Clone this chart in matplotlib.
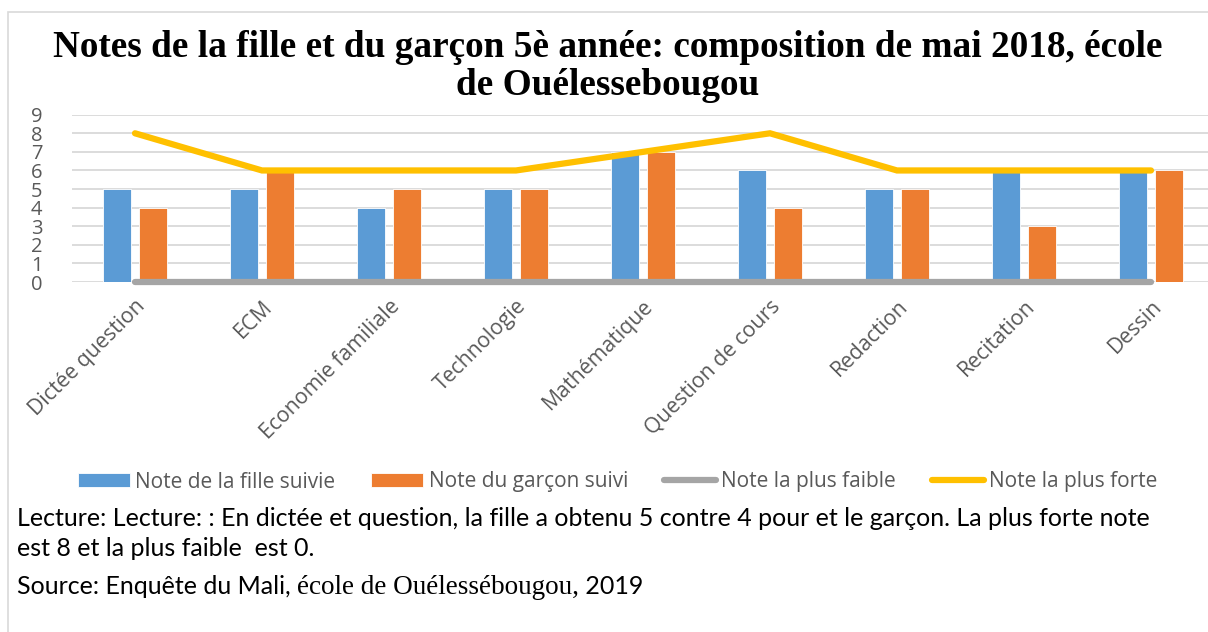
import matplotlib
matplotlib.use("Agg")
import matplotlib.pyplot as plt
from matplotlib.patches import Rectangle
import numpy as np

categories = ["Dictée question", "ECM", "Economie familiale", "Technologie",
              "Mathématique", "Question de cours", "Redaction", "Recitation", "Dessin"]
note_fille = [5, 5, 4, 5, 7, 6, 5, 6, 6]
note_garcon = [4, 6, 5, 5, 7, 4, 5, 3, 6]
note_min = [0, 0, 0, 0, 0, 0, 0, 0, 0]
note_max = [8, 6, 6, 6, 7, 8, 6, 6, 6]
y_ticks = [0, 1, 2, 3, 4, 5, 6, 7, 8, 9]

title = "Notes de la fille et du garçon 5è année: composition de mai 2018, école\nde Ouélessebougou"
legend_labels = ["Note de la fille suivie", "Note du garçon suivi",
                 "Note la plus faible", "Note la plus forte"]

BLUE = "#5B9BD5"
ORANGE = "#ED7D31"
GREY = "#A5A5A5"
GOLD = "#FFC000"
TEXT = "#595959"
UI = ["Open Sans", "DejaVu Sans"]
BODY = ["Lato", "DejaVu Sans"]
SERIF = ["Liberation Serif", "DejaVu Serif"]

W, H = 1208, 632
fig = plt.figure(figsize=(W / 100, H / 100), dpi=100)
fig.patch.set_facecolor("white")

# chart frame
fig.add_artist(Rectangle((8 / W, -0.1), 1.2, (H - 12) / H + 0.1, transform=fig.transFigure,
                         fill=False, edgecolor="#D9D9D9", linewidth=1.2))

ax = fig.add_axes([71.5 / W, (H - 282) / H, 1143 / W, 167.3 / H])
x = np.arange(len(categories))
bw = 0.22
off = 0.142
b1 = ax.bar(x - off, note_fille, width=bw, color=BLUE, edgecolor="white", linewidth=0.6,
            zorder=2)
b2 = ax.bar(x + off, note_garcon, width=bw, color=ORANGE, edgecolor="white", linewidth=0.6,
            zorder=2)
l1, = ax.plot(x, note_min, color=GREY, linewidth=4.5, solid_capstyle="round", zorder=3,
              clip_on=False)
l2, = ax.plot(x, note_max, color=GOLD, linewidth=4.5, solid_capstyle="round",
              solid_joinstyle="miter", zorder=4, clip_on=False)

ax.set_xlim(-0.5, len(categories) - 0.5)
ax.set_ylim(0, 9)
ax.set_yticks(y_ticks)
ax.set_yticklabels([str(v) for v in y_ticks], fontsize=14.5, color=TEXT, family=UI)
ax.set_xticks(x)
ax.set_xticklabels(categories, rotation=45, ha="right", rotation_mode="anchor",
                   fontsize=15.3, color=TEXT, family=UI)
ax.tick_params(axis="both", length=0)
ax.tick_params(axis="y", pad=21)
ax.tick_params(axis="x", pad=10)
for s in ax.spines.values():
    s.set_visible(False)
ax.grid(axis="y", color="#D9D9D9", linewidth=1.3, zorder=0)
ax.set_axisbelow(True)
ax.patch.set_alpha(0)

fig.text(0.503, 1 - 30 / H, title, ha="center", va="top", fontsize=26.8,
         fontweight="bold", family=SERIF, color="black", linespacing=1.1)

leg = fig.legend([b1, b2, l1, l2], legend_labels, loc="center left",
                 bbox_to_anchor=(78 / W, 1 - 482 / H),
                 ncol=4, frameon=False, handlelength=2.5,
                 handleheight=0.63, handletextpad=0.25, columnspacing=1.72,
                 borderaxespad=0, borderpad=0, prop={"family": UI, "size": 15.0})
for t in leg.get_texts():
    t.set_color(TEXT)

CAP = 18
fig.text(17 / W, 1 - 518 / H,
         "Lecture: Lecture: : En dictée et question, la fille a obtenu 5 contre 4 pour et le garçon. La plus forte note",
         ha="left", va="center", fontsize=CAP, family=BODY, color="black")
fig.text(17 / W, 1 - 548 / H, "est 8 et la plus faible  est 0.",
         ha="left", va="center", fontsize=CAP, family=BODY, color="black")
src1 = fig.text(17 / W, 1 - 587 / H, "Source: Enquête du Mali, ", ha="left", va="center",
                fontsize=CAP, family=BODY, color="black")
fig.canvas.draw()
r = fig.canvas.get_renderer()
bb = src1.get_window_extent(r)
src2 = fig.text(bb.x1 / W, 1 - 587 / H, "école de Ouélessébougou,", ha="left", va="center",
                fontsize=19.5, family=SERIF, color="black")
bb2 = src2.get_window_extent(r)
fig.text(bb2.x1 / W, 1 - 587 / H, " 2019", ha="left", va="center",
         fontsize=CAP, family=BODY, color="black")

fig.savefig("out.png", dpi=100)
